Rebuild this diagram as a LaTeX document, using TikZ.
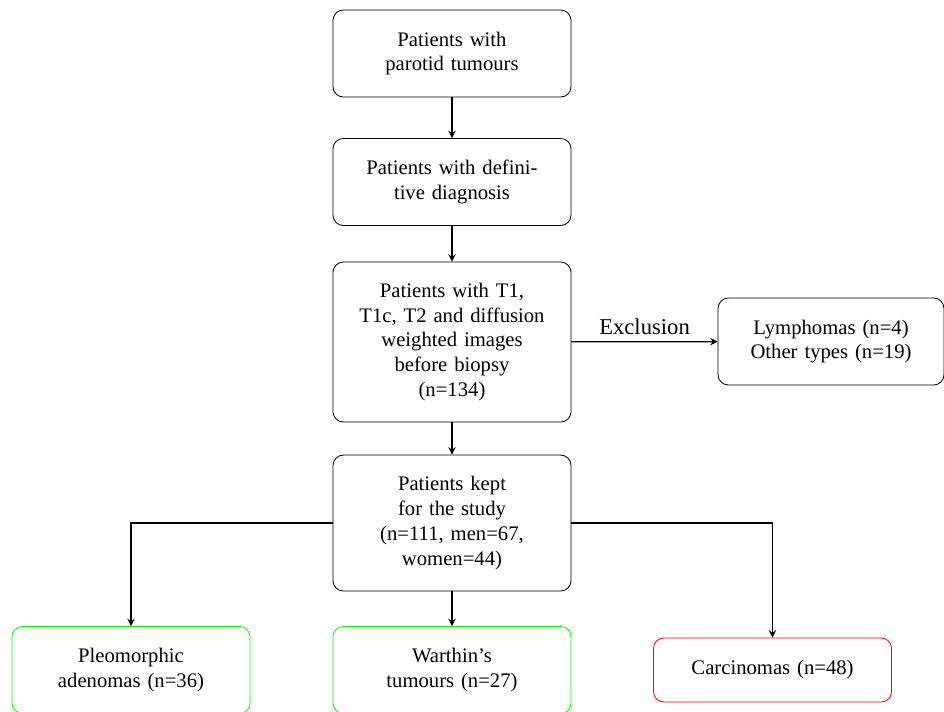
\documentclass[tikz,border=0pt]{standalone}
\usepackage{fontspec}
\setmainfont{Liberation Serif}
\usetikzlibrary{positioning}

\begin{document}
\begin{tikzpicture}[x=0.017cm, y=-0.017cm, box/.style={draw, rounded corners=5pt, align=center, text width=3.46cm, minimum width=4.046cm, minimum height=1.479cm, inner sep=2pt}, good/.style={box, draw=green}, bad/.style={box, draw=red}, arr/.style={->, >=stealth, semithick}]
			\useasboundingbox (0,0) rectangle (944,711);
			\node[box] (parotid) at (452,53.5) {Patients with\\parotid tumours};
			\node[box] (diagnosis) at (452,182) {Patients with defini-\\tive diagnosis};
			\node[box, minimum height=2.72cm] (images) at (452,342) {Patients with T1,\\T1c, T2 and diffusion\\weighted images\\before biopsy\\(n=134)};
			\node[box, minimum height=2.31cm] (kept) at (452,523) {Patients kept\\for the study\\(n=111, men=67,\\women=44)};
			\node[box, minimum width=3.84cm] (excluded) at (831,341.5) {Lymphomas (n=4)\\Other types (n=19)};
			\node[good] (pleo) at (131,670) {Pleomorphic\\adenomas (n=36)};
			\node[good] (warthin) at (452,670) {Warthin's\\tumours (n=27)};
			\node[bad, minimum height=1.088cm] (carc) at (772.5,670) {Carcinomas (n=48)};
			\draw[arr] (parotid) -- (diagnosis);
			\draw[arr] (diagnosis) -- (images);
			\draw[arr] (images) -- (kept);
			\draw[arr] (images) -- node[above, font=\fontsize{10.95}{13}\selectfont] {Exclusion} (excluded);
			\draw[arr] (kept.west) -| (pleo.north);
			\draw[arr] (kept) -- (warthin);
			\draw[arr] (kept.east) -| (carc.north);
			\end{tikzpicture}
\end{document}
